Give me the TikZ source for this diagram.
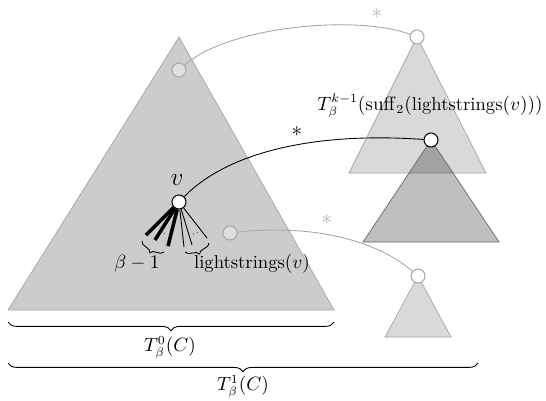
\documentclass[tikz,border=0pt]{standalone}
\usepackage{amsmath}
\usepackage{tikz}
\usetikzlibrary{positioning,decorations.pathreplacing}
\newcommand{\lstr}{\text{lightstrings}}

\begin{document}
\begin{tikzpicture}[
  x=0.02cm, y=-0.02cm,
  every node/.style={font=\fontsize{10.6}{13}\selectfont},
  tri/.style={draw=gray!70, line width=0.4pt},
  vert/.style={circle, draw, line width=0.6pt, inner sep=0pt, minimum size=0.28cm},
  greyvert/.style={vert, draw=gray!70, fill=gray!25},
  openvert/.style={vert, draw=gray!70, fill=white},
  star/.style={font=\large},
  link/.style={line width=0.5pt},
  heavy/.style={line width=2pt},
  light/.style={line width=0.5pt},
  br/.style={decorate, decoration={brace, mirror, amplitude=#1}, line width=0.5pt}
]
\useasboundingbox (0,0) rectangle (546,400);

% Main tree
\fill[gray!40] (179,37) -- (334,310) -- (8,310) -- cycle;
\draw[tri] (179,37) -- (334,310) -- (8,310) -- cycle;

% Trees on the right
\fill[black, fill opacity=0.15] (417,37) -- (486,173) -- (349,173) -- cycle;
\draw[tri] (417,37) -- (486,173) -- (349,173) -- cycle;
\fill[black, fill opacity=0.25] (431,140) -- (499,242) -- (363,242) -- cycle;
\draw[tri, draw=gray!80!black] (431,140) -- (499,242) -- (363,242) -- cycle;
\fill[black, fill opacity=0.15] (418,276) -- (451,337) -- (385,337) -- cycle;
\draw[tri] (418,276) -- (451,337) -- (385,337) -- cycle;

% Vertices
\node[greyvert] (top) at (179,70) {};
\node[greyvert] (mid) at (230,233) {};
\node[vert, fill=white] (v) at (179,202) {};
\node[openvert] (topR) at (417,37) {};
\node[vert, fill=white] (dark) at (431,140) {};
\node[openvert] (low) at (418,276) {};

\node[font=\Large] (vlab) at (177,180) {$v$};

% Children of v
\coordinate (a1) at (146,235);
\coordinate (a2) at (155,240);
\coordinate (a3) at (168,246);
\coordinate (b1) at (184,247);
\coordinate (b2) at (192,245);
\coordinate (b3) at (207,238);
\foreach \c in {a1,a2,a3} \draw[heavy] (v) -- (\c);
\foreach \c in {b1,b2,b3} \draw[light] (v) -- (\c);
\draw[dotted] (160,232) -- (166,234);
\draw[dotted] (193,234) -- (198,232);

% Braces under the children
\draw[br=4pt] (142,241) -- (164,252);
\draw[br=4pt] (185,252) -- (209,243);
\node (heavylab) at (137,264) {$\beta-1$};
\node (lightlab) at (252,264) {$\lstr(v)$};

% Connections
\draw[link, gray!70] (top) .. controls (230,25) and (360,15) .. (topR);
\draw[link] (v) .. controls (230,150) and (320,132) .. (dark);
\draw[link, gray!70] (mid) .. controls (300,225) and (370,235) .. (low);
\node[star, text=gray!60] (s1) at (377,14) {$\ast$};
\node[star] (s2) at (297,132) {$\ast$};
\node[star, text=gray!60] (s3) at (327,220) {$\ast$};

\node (sufflab) at (430,106)
  {$T_\beta^{k-1}(\mathrm{suff}_2(\lstr(v)))$};

% Bottom braces
\draw[br=5pt] (8,322) -- (334,322);
\node (T0) at (170,348) {$T_\beta^0(C)$};
\draw[br=5pt] (8,363) -- (478,363);
\node (T1) at (243,387) {$T_\beta^1(C)$};

\end{tikzpicture}
\end{document}
